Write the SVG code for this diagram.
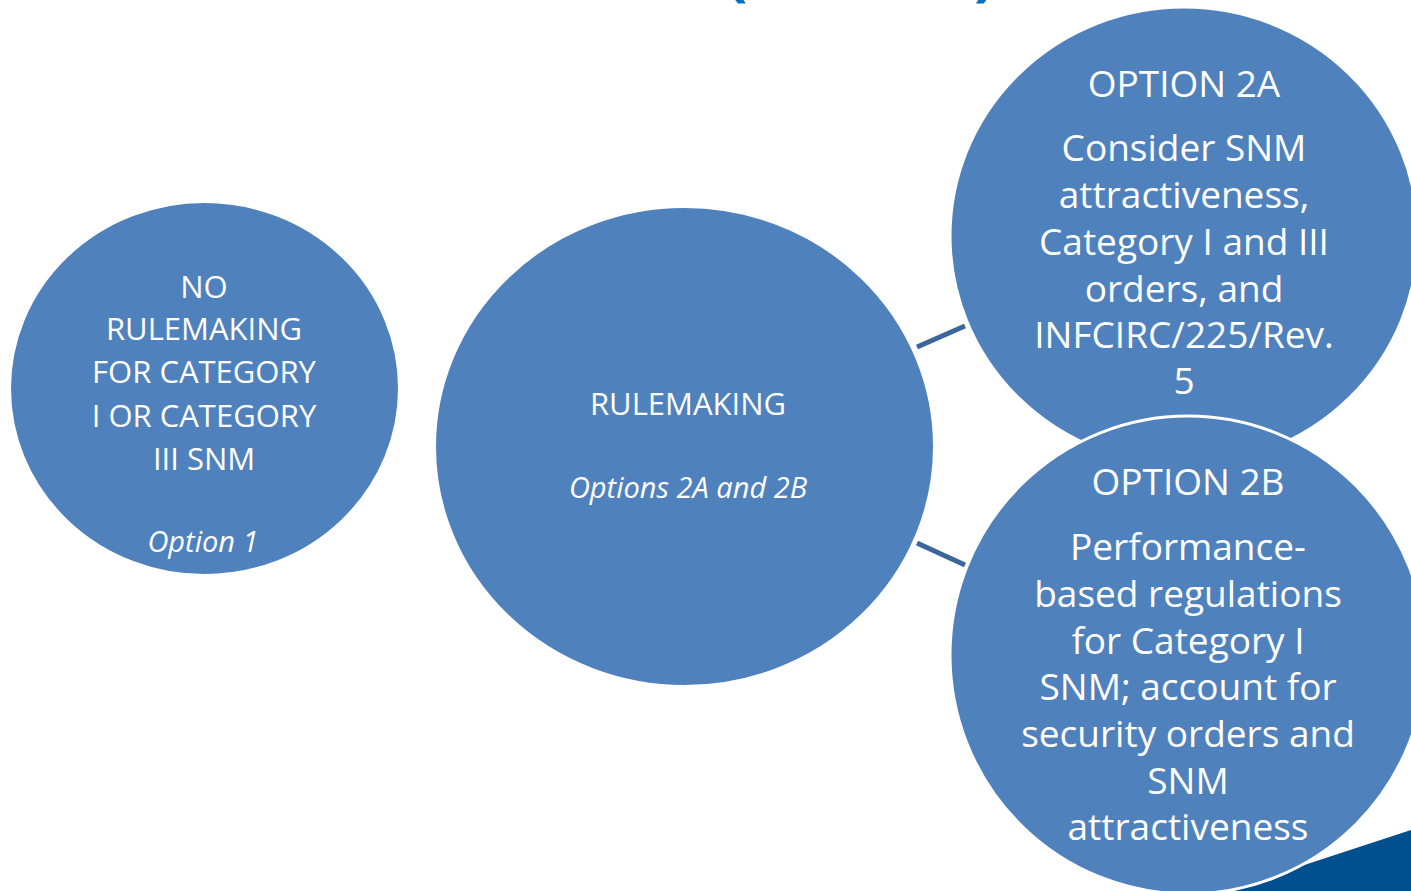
<svg xmlns="http://www.w3.org/2000/svg" width="1411" height="891" viewBox="0 0 1411 891">
<style>
.node{fill:#4F81BD;stroke:#FFFFFF;stroke-width:3}
.t{font-family:"Open Sans","Liberation Sans",sans-serif;fill:#FFFFFF;text-anchor:middle}
.it{font-style:italic}
.conn{stroke:#3B6699;stroke-width:5;stroke-linecap:butt}
.title{font-family:"Open Sans","Liberation Sans",sans-serif;font-weight:bold;fill:#0070C0;font-size:64px}
</style>
<rect width="1411" height="891" fill="#FFFFFF"/>
<g id="title">
<text class="title" x="726" y="-7">(</text>
<text class="title" x="974" y="-7">)</text>
</g>
<path id="corner" d="M1225,891 L1411,830 L1411,891 Z" fill="#004F8E"/>
<g id="connectors">
<line class="conn" x1="917" y1="347" x2="965" y2="326"/>
<line class="conn" x1="917" y1="543" x2="965" y2="565"/>
</g>
<g id="node-option1">
<ellipse class="node" cx="204.5" cy="388.5" rx="195" ry="187"/>
<text class="t" font-size="31" x="204" y="298">NO</text>
<text class="t" font-size="31" x="204" y="340">RULEMAKING</text>
<text class="t" font-size="31" x="204" y="383">FOR CATEGORY</text>
<text class="t" font-size="31" x="204" y="427">I OR CATEGORY</text>
<text class="t" font-size="31" x="204" y="470">III SNM</text>
<text class="t it" font-size="29" x="203" y="552">Option 1</text>
</g>
<g id="node-rulemaking">
<ellipse class="node" cx="684.5" cy="446.5" rx="250" ry="240"/>
<text class="t" font-size="31" x="688" y="415">RULEMAKING</text>
<text class="t it" font-size="29" x="688" y="498">Options 2A and 2B</text>
</g>
<g id="node-option2a">
<ellipse class="node" cx="1184" cy="236" rx="234" ry="229"/>
<text class="t" font-size="37" x="1184" y="97">OPTION 2A</text>
<text class="t" font-size="37" x="1184" y="161">Consider SNM</text>
<text class="t" font-size="37" x="1184" y="208">attractiveness,</text>
<text class="t" font-size="37" x="1184" y="255">Category I and III</text>
<text class="t" font-size="37" x="1184" y="302">orders, and</text>
<text class="t" font-size="37" x="1184" y="348">INFCIRC/225/Rev.</text>
<text class="t" font-size="37" x="1184" y="394">5</text>
</g>
<g id="node-option2b">
<ellipse class="node" cx="1188" cy="655" rx="238" ry="239" stroke-width="5"/>
<text class="t" font-size="37" x="1188" y="495">OPTION 2B</text>
<text class="t" font-size="37" x="1188" y="560">Performance-</text>
<text class="t" font-size="37" x="1188" y="607">based regulations</text>
<text class="t" font-size="37" x="1188" y="654">for Category I</text>
<text class="t" font-size="37" x="1188" y="700">SNM; account for</text>
<text class="t" font-size="37" x="1188" y="747">security orders and</text>
<text class="t" font-size="37" x="1188" y="794">SNM</text>
<text class="t" font-size="37" x="1188" y="840">attractiveness</text>
</g>
</svg>
